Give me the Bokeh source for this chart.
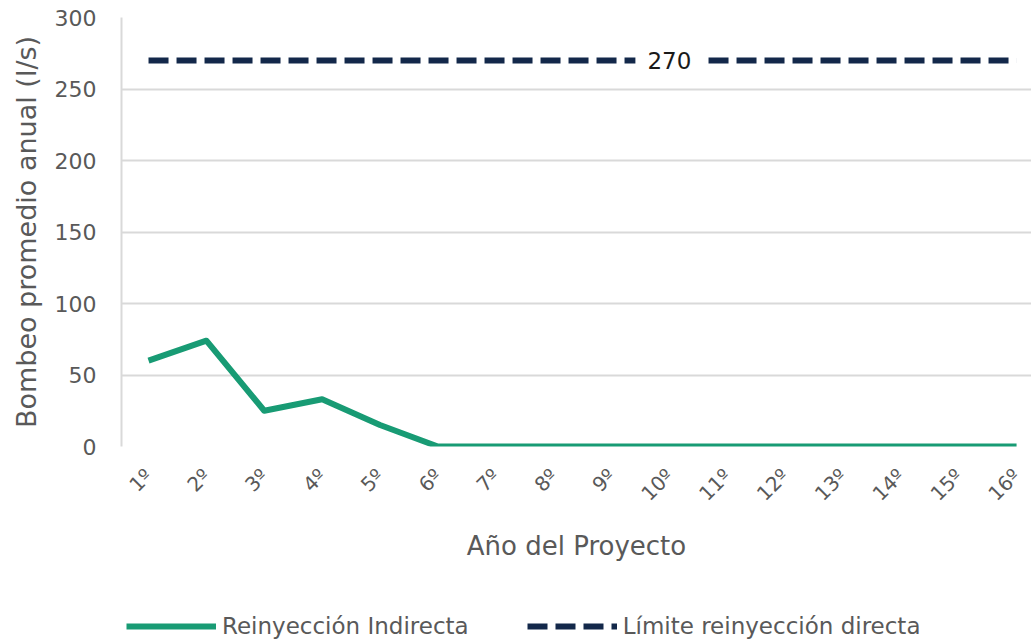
from bokeh.plotting import figure
from bokeh.layouts import column
from bokeh.models import Range1d, FixedTicker, Legend, LegendItem
from bokeh.core.properties import value
from bokeh.embed import file_html
from bokeh.resources import INLINE
import math

# ---- data ----
years = list(range(1, 17))
year_labels = [f"{i}º" for i in years]
reinyeccion_indirecta = [60, 74, 25, 33, 15, 0, 0, 0, 0, 0, 0, 0, 0, 0, 0, 0]
limite_directa = [270] * 16
y_ticks = [0, 50, 100, 150, 200, 250, 300]
label_index = 9
series_names = ["Reinyección Indirecta", "Límite reinyección directa"]

FONT = "DejaVu Sans"
GRAY = "#595959"
GREEN = "#189B74"
NAVY = "#13284A"

p = figure(frame_width=910, frame_height=429, output_backend="svg", toolbar_location=None,
           x_range=Range1d(0.533, 16.258), y_range=Range1d(0, 300),
           min_border_left=121, min_border_top=17, min_border_right=0,
           min_border_bottom=150)
p.outline_line_color = None
p.background_fill_color = "white"

# lines
p.line(years, reinyeccion_indirecta, line_width=6, line_color=GREEN, line_join="round")
p.line(years, limite_directa, line_width=6, line_color=NAVY, line_dash="20 8")

# data label
p.text(x=[years[label_index]], y=[limite_directa[label_index]],
       text=[str(limite_directa[label_index])],
       text_align="center", text_baseline="middle",
       text_font=value(FONT), text_font_size="23px", text_color="#1A1A1A",
       background_fill_color="white", padding=12)

# grid
p.xgrid.visible = False
p.ygrid.ticker = FixedTicker(ticks=y_ticks)
p.ygrid.grid_line_color = "#D9D9D9"
p.ygrid.grid_line_width = 2

# y axis
ya = p.yaxis[0]
ya.ticker = FixedTicker(ticks=y_ticks)
ya.axis_line_color = "#D9D9D9"
ya.axis_line_width = 2
ya.major_tick_line_color = None
ya.minor_tick_line_color = None
ya.major_tick_out = 0
ya.major_label_standoff = 25
ya.major_label_text_font = FONT
ya.major_label_text_font_size = "22px"
ya.major_label_text_color = GRAY
ya.axis_label = "Bombeo promedio anual (l/s)"
ya.axis_label_text_font = FONT
ya.axis_label_text_font_size = "27px"
ya.axis_label_text_font_style = "normal"
ya.axis_label_text_color = GRAY
ya.axis_label_standoff = 10

# x axis
xa = p.xaxis[0]
xa.ticker = FixedTicker(ticks=years)
xa.major_label_overrides = {y: l for y, l in zip(years, year_labels)}
xa.major_label_orientation = math.pi / 4
xa.axis_line_color = None
xa.major_tick_line_color = None
xa.minor_tick_line_color = None
xa.major_tick_out = 0
xa.major_label_standoff = 26
xa.major_label_text_font = FONT
xa.major_label_text_font_size = "20px"
xa.major_label_text_color = GRAY
xa.axis_label = "Año del Proyecto"
xa.axis_label_text_font = FONT
xa.axis_label_text_font_size = "26px"
xa.axis_label_text_font_style = "normal"
xa.axis_label_text_color = GRAY
xa.axis_label_standoff = 14

# legend strip (separate small figure so the legend is not clipped)
pl = figure(width=1031, height=45, output_backend="svg", toolbar_location=None,
            x_range=Range1d(-10, -9), y_range=Range1d(-10, -9),
            x_axis_location=None, y_axis_location=None,
            min_border=0, min_border_left=0, min_border_right=0,
            min_border_top=0, min_border_bottom=0)
pl.outline_line_color = None
pl.grid.visible = False
g1 = pl.line(years, reinyeccion_indirecta, line_width=6, line_color=GREEN)
g2 = pl.line(years, limite_directa, line_width=6, line_color=NAVY, line_dash="20 8")

legend = Legend(items=[LegendItem(label=series_names[0], renderers=[g1]),
                       LegendItem(label=series_names[1], renderers=[g2])],
                orientation="horizontal", location=(5, 2),
                glyph_width=90, glyph_height=20, label_standoff=6, spacing=58,
                padding=0, margin=0, border_line_color=None,
                background_fill_alpha=0,
                label_text_font=FONT, label_text_font_size="23px",
                label_text_color=GRAY)
pl.add_layout(legend)

layout = column(p, pl, spacing=0)
open("out.html", "w").write(file_html(layout, INLINE))
